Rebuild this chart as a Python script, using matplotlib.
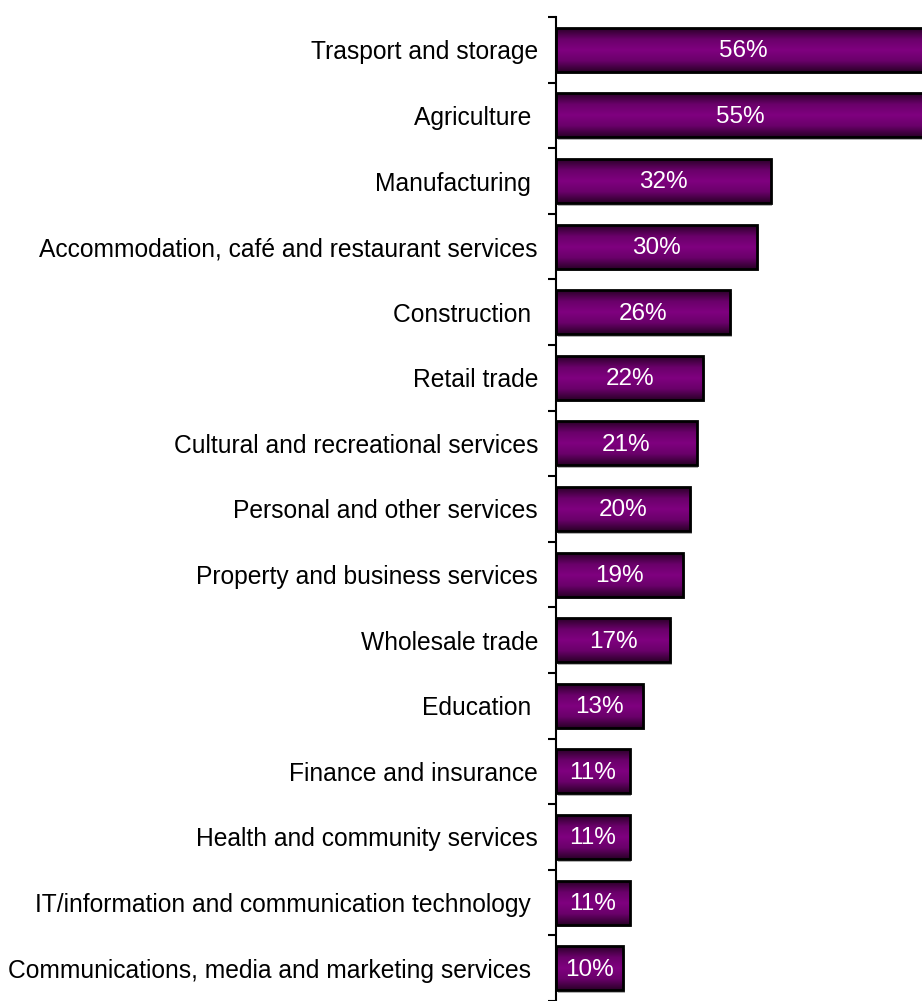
import numpy as np
import matplotlib.pyplot as plt
from matplotlib.colors import LinearSegmentedColormap
from matplotlib.patches import Rectangle

plt.rcParams['font.family'] = ['Liberation Sans', 'DejaVu Sans']

sectors = [
    "Trasport and storage",
    "Agriculture ",
    "Manufacturing ",
    "Accommodation, café and restaurant services",
    "Construction ",
    "Retail trade",
    "Cultural and recreational services",
    "Personal and other services",
    "Property and business services",
    "Wholesale trade",
    "Education ",
    "Finance and insurance",
    "Health and community services",
    "IT/information and communication technology ",
    "Communications, media and marketing services ",
]
shares = [56, 55, 32, 30, 26, 22, 21, 20, 19, 17, 13, 11, 11, 11, 10]

fig = plt.figure(figsize=(9.22, 10.01), dpi=100)
ax = fig.add_axes([556 / 922, 0, 1 - 556 / 922, (1001 - 17) / 1001])

# dark edges, purple middle
grad = LinearSegmentedColormap.from_list(
    "bar", ["#2b0029", "#6a006a", "#800080", "#6a006a", "#2b0029"])
shade = np.linspace(0, 1, 64).reshape(-1, 1)

n = len(sectors)
ypos = np.arange(n)
h = 0.67
for y, v in zip(ypos, shares):
    # soft shadow, then gradient fill, then outline
    ax.add_patch(Rectangle((0.25, y - h / 2 + 0.04), v, h, facecolor="#b0b0b0",
                           edgecolor="none", zorder=1, clip_on=True))
    ax.imshow(shade, cmap=grad, aspect="auto", extent=(0, v, y + h / 2, y - h / 2),
              zorder=2, interpolation="bilinear")
    ax.add_patch(Rectangle((0, y - h / 2), v, h, facecolor="none",
                           edgecolor="black", linewidth=2, zorder=3))
    ax.text(v / 2, y + 0.02, f"{v}%", color="white", ha="center", va="center",
            fontsize=17.5, zorder=4)

ax.set_xlim(0, 54.6)
ax.set_ylim(n - 0.5, -0.5)

for s in ["top", "right", "bottom"]:
    ax.spines[s].set_visible(False)
ax.spines["left"].set_linewidth(1.5)
ax.xaxis.set_visible(False)

ax.set_yticks(ypos)
ax.set_yticklabels(sectors, fontsize=17.7)
ax.tick_params(axis="y", which="major", length=0, pad=13)
ax.set_yticks(np.arange(-0.5, n, 1), minor=True)
ax.tick_params(axis="y", which="minor", length=6, width=1.5, direction="out")

fig.savefig("out.png", dpi=100)
